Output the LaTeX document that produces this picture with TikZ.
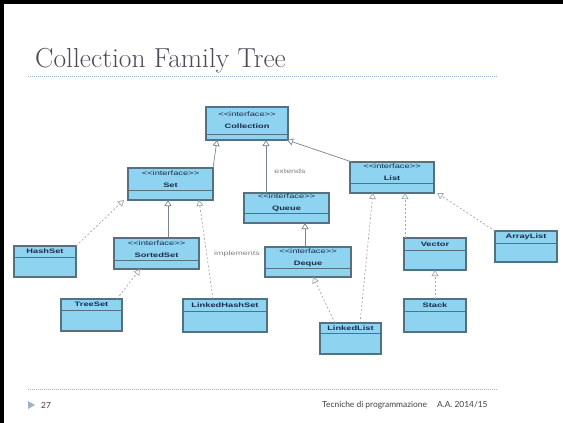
\documentclass[tikz,border=0pt]{standalone}
\usepackage{fontspec}
\newfontfamily\boxfont[FakeStretch=1.45]{Liberation Sans}
\newfontfamily\footfont{Lato}
\usetikzlibrary{arrows.meta}
\definecolor{boxfill}{HTML}{8ED3F0}
\definecolor{boxline}{HTML}{55707F}
\definecolor{conn}{HTML}{76848E}
\definecolor{dashc}{HTML}{9EA8B0}
\definecolor{titlec}{HTML}{4C4C58}
\definecolor{rulec}{HTML}{9FB4C8}
\definecolor{navy}{HTML}{1B2B48}
\newcommand{\stf}{\boxfont\fontsize{6.4}{8.3}\selectfont}
\newcommand{\nmf}{\boxfont\bfseries\fontsize{6.4}{8.3}\selectfont}
\newcommand{\iface}[1]{{\stf <\kern0.1pt<interface>\kern0.1pt>}\\{\nmf #1}}
\newcommand{\klass}[1]{{\nmf #1}}
\newcommand{\umlbox}[7]{%
  \node[ubox, minimum width={(#4-#2)*1pt}, minimum height={(#5-#3)*1pt}] (#1) at ({(#2+#4)/2},{(#3+#5)/2}) {};
  \draw[udiv] (#2,#6) -- (#4,#6);
  \node[utext] (#1-t) at ({(#2+#4)/2},{(#3+#6)/2}) {#7};
}
\tikzset{
  ubox/.style={draw=boxline, fill=boxfill, line width=1.1pt, inner sep=0pt, outer sep=0pt},
  udiv/.style={draw=boxline, line width=0.8pt},
  utext/.style={align=center, inner sep=0pt, text=navy},
  gen/.style={draw=conn, line width=0.7pt, -{Triangle[open, length=6pt, width=7pt, fill=white]}},
  real/.style={gen, draw=dashc, dash pattern=on 2pt off 2pt},
  lbl/.style={font=\boxfont\fontsize{6.2}{7}\selectfont, text=gray, inner sep=0pt},
  rulel/.style={draw=rulec, line width=0.6pt, dash pattern=on 1pt off 1pt},
}
\begin{document}
\begin{tikzpicture}[x=1pt, y=-1pt]
\useasboundingbox (0,0) rectangle (563,423);
\fill[white] (0,0) rectangle (563,423);
\fill[black] (0,0) rectangle (563,4);
\fill[black] (0,0) rectangle (4,423);
% title
\node[anchor=base west, font=\fontsize{27.5}{32}\selectfont, text=titlec, inner sep=0pt] (title) at (35,67) {Collection Family Tree};
\draw[rulel] (28,76) -- (498,76);
% boxes
\umlbox{coll}{206}{107}{288}{140}{134}{\iface{Collection}}
\umlbox{set}{128}{168}{213}{200}{190}{\iface{Set}}
\umlbox{list}{350}{162}{434}{193}{183}{\iface{List}}
\umlbox{queue}{244}{193}{329}{223}{213}{\iface{Queue}}
\umlbox{deque}{265}{247}{351}{277}{268}{\iface{Deque}}
\umlbox{sorted}{114}{238}{199}{269}{260}{\iface{SortedSet}}
\umlbox{hashset}{14}{246}{76}{277}{257}{\klass{HashSet}}
\umlbox{treeset}{61}{299}{122}{331}{310}{\klass{TreeSet}}
\umlbox{lhs}{183}{299}{267}{332}{311}{\klass{LinkedHashSet}}
\umlbox{ll}{320}{323}{381}{354}{333}{\klass{LinkedList}}
\umlbox{vector}{404}{238}{466}{270}{250}{\klass{Vector}}
\umlbox{stack}{404}{299}{466}{332}{311}{\klass{Stack}}
\umlbox{alist}{495}{231}{557}{262}{243}{\klass{ArrayList}}
% generalizations (extends)
\draw[gen] (set.north east) -- ([xshift=11pt]coll.south west);
\draw[gen] ([xshift=22pt]queue.north west) coordinate (qa) -- (qa |- coll.south);
\draw[gen] ([xshift=2pt]list.north west) -- ([xshift=-1pt]coll.south east);
\draw[gen] ([xshift=54pt]sorted.north west) coordinate (sa) -- (sa |- set.south);
\draw[gen] ([xshift=40pt]deque.north west) coordinate (da) -- (da |- queue.south);
% realizations (implements)
\draw[real] (hashset.north east) -- ([xshift=-4pt]set.south west);
\draw[real] ([xshift=30pt]lhs.north west) -- ([xshift=-14pt]set.south east);
\draw[real] ([xshift=-5pt]treeset.north east) -- ([xshift=26pt]sorted.south west);
\draw[real] ([xshift=15pt]ll.north west) -- ([xshift=48pt]deque.south west);
\draw[real] ([xshift=40pt]ll.north west) -- ([xshift=23pt]list.south west);
\draw[real] ([xshift=1pt]vector.north west) coordinate (va) -- (va |- list.south);
\draw[real] (alist.north west) -- ([xshift=3pt]list.south east);
\draw[real] (stack.north) -- (vector.south);
% labels
\node[lbl] (ext) at (290,171) {extends};
\node[lbl] (impl) at (237,254) {implements};
% footer
\draw[rulel] (28,389) -- (498,389);
\fill[rulec] (28,401) -- (35,405) -- (28,409) -- cycle;
\node[anchor=west, inner sep=0pt, font=\footfont\fontsize{8.4}{10}\selectfont, text=black!75] (pg) at (41,405) {27};
\node[anchor=west, inner sep=0pt, font=\footfont\fontsize{8.4}{10}\selectfont, text=black!75] (ft) at (322,405) {Tecniche di programmazione\hspace{1.2em}A.A. 2014/15};
\end{tikzpicture}
\end{document}
